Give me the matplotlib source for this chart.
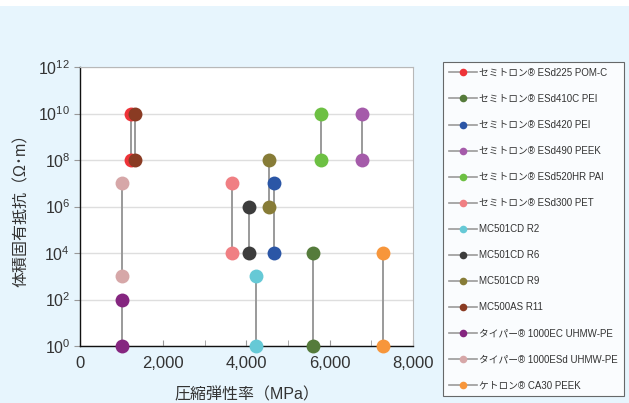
import math
import matplotlib
matplotlib.use('Agg')
import matplotlib.pyplot as plt
from matplotlib.lines import Line2D
from matplotlib.ticker import FixedLocator, FuncFormatter, NullLocator

plt.rcParams['font.family'] = ['Liberation Sans', 'Noto Sans CJK JP', 'DejaVu Sans']
plt.rcParams['mathtext.fontset'] = 'custom'
plt.rcParams['mathtext.rm'] = 'Liberation Sans'

# grades, compressive modulus (MPa) and resistivity range (ohm m)
names = [
    'セミトロン® ESd225 POM-C',
    'セミトロン® ESd410C PEI',
    'セミトロン® ESd420 PEI',
    'セミトロン® ESd490 PEEK',
    'セミトロン® ESd520HR PAI',
    'セミトロン® ESd300 PET',
    'MC501CD R2',
    'MC501CD R6',
    'MC501CD R9',
    'MC500AS R11',
    'タイパー® 1000EC UHMW-PE',
    'タイパー® 1000ESd UHMW-PE',
    'ケトロン® CA30 PEEK',
]
modulus = [1230, 5600, 4650, 6780, 5800, 3650, 4220, 4050, 4550, 1330, 1000, 1000, 7280]
res_low = [1e8, 1e0, 1e4, 1e8, 1e8, 1e4, 1e0, 1e4, 1e6, 1e8, 1e0, 1e3, 1e0]
res_high = [1e10, 1e4, 1e7, 1e10, 1e10, 1e7, 1e3, 1e6, 1e8, 1e10, 1e2, 1e7, 1e4]
colors = ['#EE3338', '#557B3B', '#2B56A6', '#A55BAA', '#6DC043', '#F07F83',
          '#66C9D6', '#3C3C3C', '#877C37', '#8A3B23', '#852680', '#D6A7A8', '#F7963B']

bg = '#E7F5FD'
fig = plt.figure(figsize=(6.29, 4.03), dpi=100, facecolor=bg)
# white strip at the very top
fig.patches.append(plt.Rectangle((0, 1 - 6 / 403), 1, 6 / 403, transform=fig.transFigure,
                                 facecolor='white', edgecolor='none', zorder=0))

ax = fig.add_axes([80 / 629, 1 - 346 / 403, 333 / 629, 279 / 403])
ax.set_facecolor('white')

for i in range(len(names)):
    ax.plot([modulus[i], modulus[i]], [res_low[i], res_high[i]], color='#9A9A9A', lw=1.4, zorder=2)
    ax.plot([modulus[i], modulus[i]], [res_low[i], res_high[i]], 'o', color=colors[i],
            ms=10, mec='none', zorder=3, clip_on=False)

ax.set_yscale('log')
ax.set_xlim(0, 8000)
ax.set_ylim(1e0, 1e12)
ax.yaxis.set_major_locator(FixedLocator([10.0 ** k for k in range(0, 13, 2)]))
ax.yaxis.set_minor_locator(NullLocator())
ax.yaxis.set_major_formatter(FuncFormatter(lambda v, p: r'$\mathregular{10^{%d}}$' % round(math.log10(v))))
ax.set_xticks([0, 2000, 4000, 6000, 8000])
ax.set_xticks([1000, 3000, 5000, 7000], minor=True)
ax.xaxis.set_major_formatter(FuncFormatter(lambda v, p: '{:,.0f}'.format(v)))

ax.grid(axis='y', color='#DEDEDE', lw=1.0, zorder=0)
ax.set_axisbelow(True)

for s in ['top', 'right']:
    ax.spines[s].set_color('#B8B8B8')
    ax.spines[s].set_linewidth(0.8)
for s in ['left', 'bottom']:
    ax.spines[s].set_color('#111111')
    ax.spines[s].set_linewidth(1.0)

ax.tick_params(axis='y', which='major', direction='out', length=4, color='#999999',
               labelsize=11.5, pad=3, labelcolor='#333333')
ax.tick_params(axis='x', which='both', direction='in', length=4, color='#999999',
               labelsize=12, pad=7, labelcolor='#333333')

ax.set_ylabel('体積固有抵抗（Ω･m）', fontsize=11.5, color='#333333', labelpad=7)
ax.set_xlabel('圧縮弾性率（MPa）', fontsize=11.5, color='#333333', labelpad=12)

handles = [Line2D([0], [0], color='#9A9A9A', lw=1.2, marker='o', ms=5.5,
                  mfc=c, mec='none') for c in colors]
leg = fig.legend(handles, names, loc='upper left', bbox_to_anchor=(443 / 629, 1 - 62 / 403),
                 fontsize=7.0, labelspacing=1.65, handlelength=2.9, handletextpad=0.2,
                 borderpad=0.6, borderaxespad=0, frameon=True, fancybox=False)
leg.get_frame().set_edgecolor('#444444')
leg.get_frame().set_linewidth(0.8)
leg.get_frame().set_facecolor('white')
for t in leg.get_texts():
    t.set_color('#333333')

fig.savefig('out.png', dpi=100, facecolor=bg)
